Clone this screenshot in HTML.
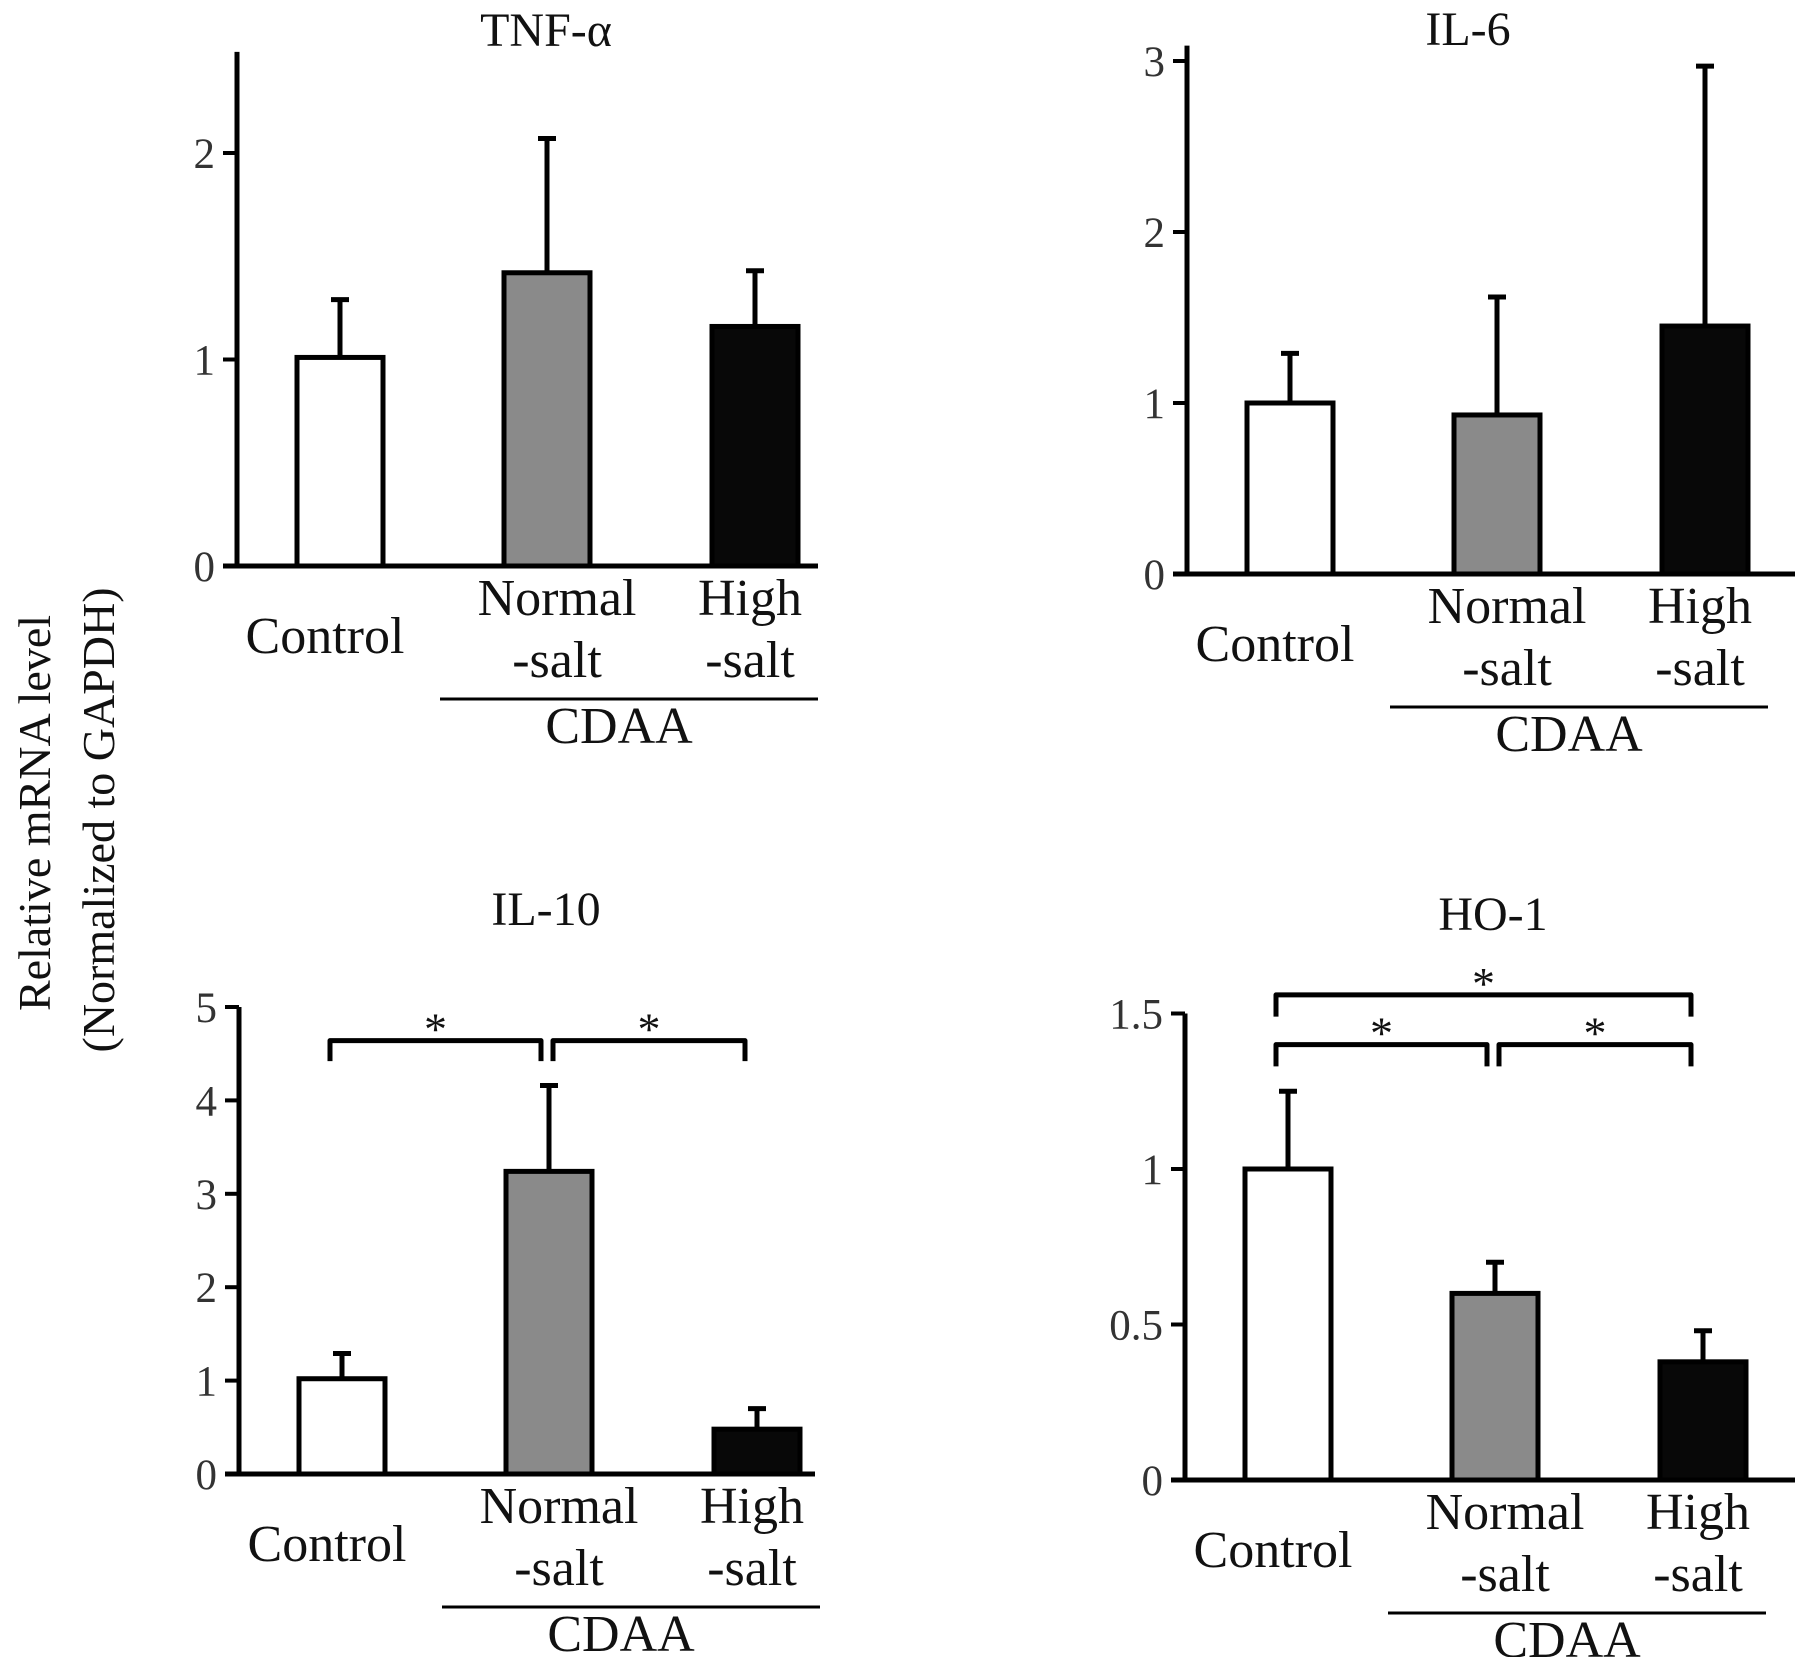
<!DOCTYPE html>
<html><head><meta charset="utf-8">
<style>
html,body{margin:0;padding:0;background:#fff;}
svg{display:block;font-family:"Liberation Serif",serif;}
</style></head>
<body>
<svg id="fig" width="1795" height="1657" viewBox="0 0 1795 1657" xmlns="http://www.w3.org/2000/svg">
<text transform="translate(50,813) rotate(-90)" text-anchor="middle" font-size="46" fill="#111">Relative mRNA level</text>
<text transform="translate(114,820) rotate(-90)" text-anchor="middle" font-size="46" fill="#111">(Normalized to GAPDH)</text>
</svg>
<script>
const categories = ["Control", "Normal-salt", "High-salt"];
const tnfValues = [1.01, 1.42, 1.16];
const tnfErrors = [0.28, 0.65, 0.27];
const il6Values = [1.0, 0.93, 1.45];
const il6Errors = [0.29, 0.69, 1.52];
const il10Values = [1.02, 3.24, 0.48];
const il10Errors = [0.27, 0.92, 0.22];
const ho1Values = [1.0, 0.6, 0.38];
const ho1Errors = [0.25, 0.10, 0.10];
const tnfTicks = [0, 1, 2];
const il6Ticks = [0, 1, 2, 3];
const il10Ticks = [0, 1, 2, 3, 4, 5];
const ho1Ticks = [0, 0.5, 1, 1.5];
const il10Brackets = [[0, 1, 4.64, 4.42], [1, 2, 4.64, 4.42]];
const ho1Brackets = [[0, 2, 1.56, 1.49], [0, 1, 1.40, 1.33], [1, 2, 1.40, 1.33]];

const NS = "http://www.w3.org/2000/svg";
const svg = document.getElementById("fig");
function mk(tag, attrs, parent) {
  const e = document.createElementNS(NS, tag);
  for (const k in attrs) e.setAttribute(k, attrs[k]);
  (parent || svg).appendChild(e);
  return e;
}
const fills = ["#ffffff", "#8a8a8a", "#080808"];
const barOff = [103, 310, 518];
const BW = 86;

function panel(p) {
  const g = mk("g", {});
  
  
  const y = v => p.zero - v * p.scale;
  const xc = i => p.ax + barOff[i];
  const t = mk("text", {x: p.titleX, y: p.titleY, "text-anchor": "middle", "font-size": 48, fill: "#111"}, g);
  t.textContent = p.title;
  
  
  p.values.forEach((v, i) => {
    const top = y(v + p.errors[i]);
    const el = mk("line", {x1: xc(i), x2: xc(i), y1: y(v), y2: top, stroke: "#000", "stroke-width": 5}, g);
    
    
    const cap = mk("line", {x1: xc(i) - 9, x2: xc(i) + 9, y1: top, y2: top, stroke: "#000", "stroke-width": 5}, g);
    
    
    const b = mk("rect", {x: xc(i) - BW / 2, y: y(v), width: BW, height: p.zero - y(v), fill: fills[i], stroke: "#000", "stroke-width": 5}, g);
    
    
  });
  const ya = mk("line", {x1: p.ax, x2: p.ax, y1: p.zero + 2, y2: y(p.top), stroke: "#000", "stroke-width": 5}, g);
  
  
  const xa = mk("line", {x1: p.ax - 14, x2: p.xend, y1: p.zero, y2: p.zero, stroke: "#000", "stroke-width": 5}, g);
  
  
  p.ticks.forEach(tv => {
    const tk = mk("line", {x1: p.ax - 14, x2: p.ax, y1: y(tv), y2: y(tv), stroke: "#000", "stroke-width": 4}, g);
    
    
    const tl = mk("text", {x: p.ax - 22, y: y(tv) + 15, "text-anchor": "end", "font-size": 43, fill: "#333"}, g);
    tl.textContent = String(tv);
    
    
  });
  const lab = (txt, dx, dy, name) => {
    const e = mk("text", {x: p.ax + dx, y: p.zero + dy, "text-anchor": "middle", "font-size": 52, fill: "#111"}, g);
    e.textContent = txt;
    
    
  };
  lab("Control", 88, 87, p.key + '-label-control');
  lab("Normal", 320, 49, p.key + '-label-normal');
  lab("-salt", 320, 111, p.key + '-label-normal-salt');
  lab("High", 513, 49, p.key + '-label-high');
  lab("-salt", 513, 111, p.key + '-label-high-salt');
  const gl = mk("line", {x1: p.ax + 203, x2: p.ax + 581, y1: p.zero + 133, y2: p.zero + 133, stroke: "#000", "stroke-width": 3}, g);
  
  
  lab("CDAA", 382, 177, p.key + '-group-label-cdaa');
  (p.brackets || []).forEach(br => {
    const bx1 = br[0] === 0 ? xc(0) - 12 : xc(br[0]) + 4;
    const bx2 = br[1] === 2 ? xc(2) - 12 : xc(1) - 8;
    const yh = y(br[2]), yl = y(br[3]);
    const pth = mk("path", {d: `M${bx1},${yl} L${bx1},${yh} L${bx2},${yh} L${bx2},${yl}`, fill: "none", stroke: "#000", "stroke-width": 5, "stroke-linejoin": "round"}, g);
    
    
    const st = mk("text", {x: (bx1 + bx2) / 2, y: yh + 4, "text-anchor": "middle", "font-size": 46, fill: "#111"}, g);
    st.textContent = "*";
    
    
  });
}

panel({key: "tnf", title: "TNF-α", titleX: 546, titleY: 46, ax: 237, zero: 566, scale: 206.5, top: 2.49, xend: 818, values: tnfValues, errors: tnfErrors, ticks: tnfTicks});
panel({key: "il6", title: "IL-6", titleX: 1468, titleY: 45, ax: 1187, zero: 574, scale: 171, top: 3.09, xend: 1795, values: il6Values, errors: il6Errors, ticks: il6Ticks});
panel({key: "il10", title: "IL-10", titleX: 546, titleY: 925, ax: 239, zero: 1474, scale: 93.4, top: 5, xend: 815, values: il10Values, errors: il10Errors, ticks: il10Ticks, brackets: il10Brackets});
panel({key: "ho1", title: "HO-1", titleX: 1493, titleY: 930, ax: 1185, zero: 1480, scale: 311, top: 1.5, xend: 1795, values: ho1Values, errors: ho1Errors, ticks: ho1Ticks, brackets: ho1Brackets});
</script>
</body></html>
